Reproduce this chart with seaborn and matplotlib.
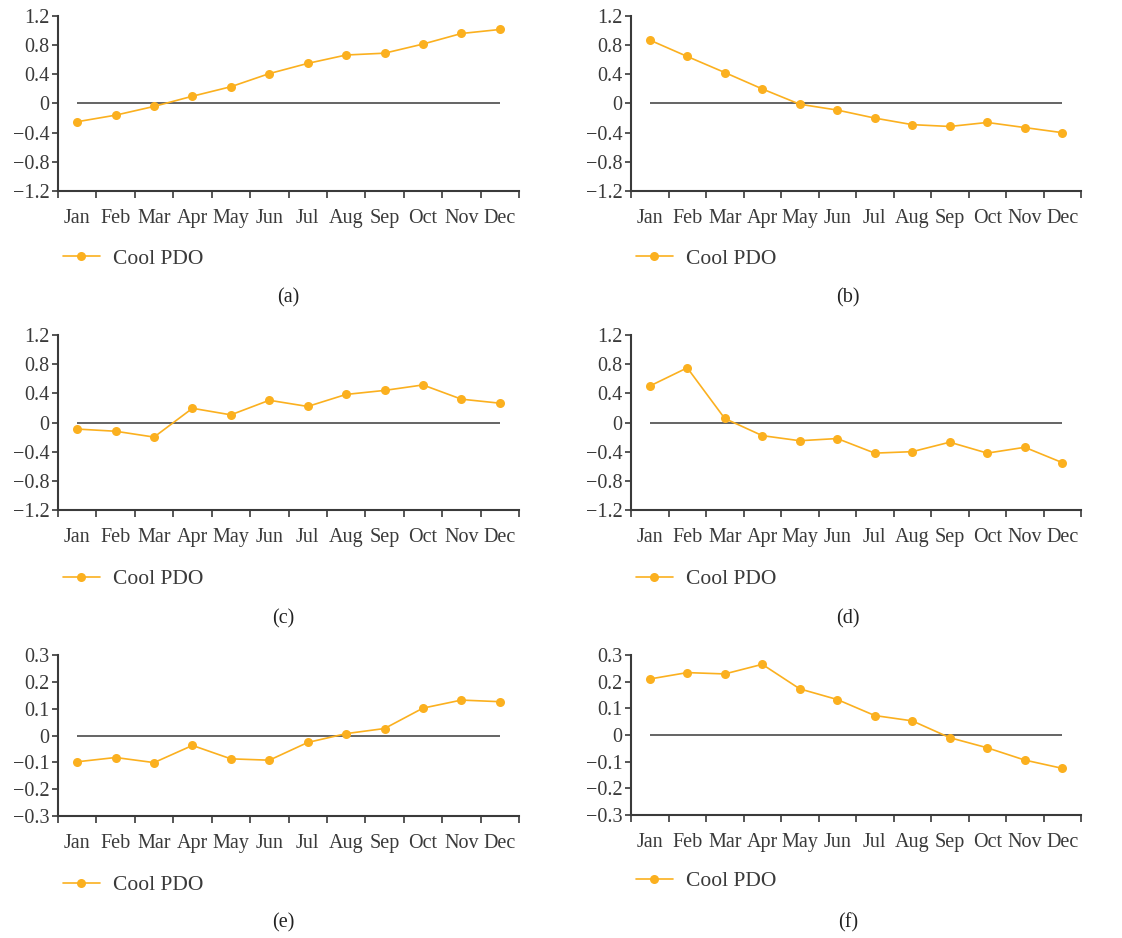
import numpy as np
import pandas as pd
import matplotlib
matplotlib.use('Agg')
import matplotlib.pyplot as plt
from matplotlib.ticker import FixedLocator, FuncFormatter
import seaborn as sns

MONTHS = ['Jan', 'Feb', 'Mar', 'Apr', 'May', 'Jun',
          'Jul', 'Aug', 'Sep', 'Oct', 'Nov', 'Dec']

panel_a = [-0.25, -0.16, -0.04, 0.10, 0.23, 0.41, 0.55, 0.665, 0.69, 0.815, 0.96, 1.015]
panel_b = [0.87, 0.645, 0.425, 0.20, -0.01, -0.09, -0.20, -0.29, -0.315, -0.26, -0.33, -0.40]
panel_c = [-0.09, -0.12, -0.20, 0.195, 0.105, 0.305, 0.22, 0.385, 0.44, 0.515, 0.32, 0.265]
panel_d = [0.50, 0.75, 0.055, -0.18, -0.25, -0.22, -0.42, -0.40, -0.27, -0.42, -0.34, -0.55]
panel_e = [-0.098, -0.082, -0.101, -0.037, -0.087, -0.092, -0.026, 0.007, 0.026, 0.102, 0.132, 0.126]
panel_f = [0.210, 0.234, 0.229, 0.265, 0.173, 0.133, 0.073, 0.053, -0.010, -0.048, -0.094, -0.125]

SERIES = 'Cool PDO'
LABELS = ['(a)', '(b)', '(c)', '(d)', '(e)', '(f)']
YTICKS_BIG = [-1.2, -0.8, -0.4, 0, 0.4, 0.8, 1.2]
YTICKS_SMALL = [-0.3, -0.2, -0.1, 0, 0.1, 0.2, 0.3]

ORANGE = '#FBB01F'
DARK = '#3a3a3a'

sns.set_style('white')
plt.rcParams['font.family'] = ['Liberation Serif', 'DejaVu Serif']
plt.rcParams['font.size'] = 14

W, H = 1122, 938
fig = plt.figure(figsize=(W / 100, H / 100), dpi=100)

# axes boxes in pixels: left, top, right, bottom
boxes = [
    (58, 16, 519, 191),
    (631, 16, 1081, 191),
    (58, 335, 519, 510),
    (631, 335, 1081, 510),
    (58, 655, 519, 816),
    (631, 655, 1081, 815),
]
legend_pos = [(63, 259), (636, 259), (63, 579), (636, 579), (63, 885), (636, 881)]
label_pos = [(288, 298), (848, 298), (283, 619), (848, 619), (283, 923), (848, 923)]
panels = [panel_a, panel_b, panel_c, panel_d, panel_e, panel_f]


def fmt(v, _):
    if abs(v) < 1e-9:
        return '0'
    return f'{v:.1f}'.replace('-', '\u2212')


for i, vals in enumerate(panels):
    l, t, r, b = boxes[i]
    ax = fig.add_axes([l / W, 1 - b / H, (r - l) / W, (b - t) / H])
    df = pd.DataFrame({'month': MONTHS, 'value': vals})
    sns.lineplot(data=df, x='month', y='value', ax=ax, sort=False,
                 color=ORANGE, linewidth=1.2, marker='o', markersize=6.5,
                 markeredgewidth=0, label=SERIES, legend=False)
    ax.hlines(0, 0, len(MONTHS) - 1, color=DARK, linewidth=1.1, zorder=1)

    small = i >= 4
    ticks = YTICKS_SMALL if small else YTICKS_BIG
    ax.set_ylim(ticks[0], ticks[-1])
    ax.set_yticks(ticks)
    ax.yaxis.set_major_formatter(FuncFormatter(fmt))
    ax.set_xlim(-0.5, len(MONTHS) - 0.5)
    ax.set_xticks(range(len(MONTHS)))
    ax.set_xticklabels(MONTHS)
    ax.xaxis.set_minor_locator(FixedLocator(np.arange(-0.5, len(MONTHS), 1.0)))
    ax.tick_params(axis='x', which='major', length=0, pad=13, labelsize=14.5, colors=DARK)
    ax.tick_params(axis='x', which='minor', length=5, width=1.2, color=DARK, direction='out', bottom=True)
    ax.tick_params(axis='y', length=4, width=1.2, color=DARK, direction='out', left=True,
                   labelsize=14.5, labelcolor=DARK, pad=2)
    ax.set_xlabel('')
    ax.set_ylabel('')
    for s in ['top', 'right']:
        ax.spines[s].set_visible(False)
    for s in ['left', 'bottom']:
        ax.spines[s].set_color(DARK)
        ax.spines[s].set_linewidth(1.5)

    handles, labs = ax.get_legend_handles_labels()
    lx, ly = legend_pos[i]
    fig.legend(handles, labs, loc='center left', bbox_to_anchor=(lx / W, 1 - ly / H),
               bbox_transform=fig.transFigure, frameon=False, borderpad=0,
               borderaxespad=0, handlelength=1.7, handletextpad=0.6,
               prop={'size': 15.5}, labelcolor=DARK)

    px, py = label_pos[i]
    fig.text(px / W, 1 - py / H, LABELS[i], ha='center', va='center',
             fontsize=14.5, color='#222222')

plt.savefig('out.png', dpi=100)
plt.close()
